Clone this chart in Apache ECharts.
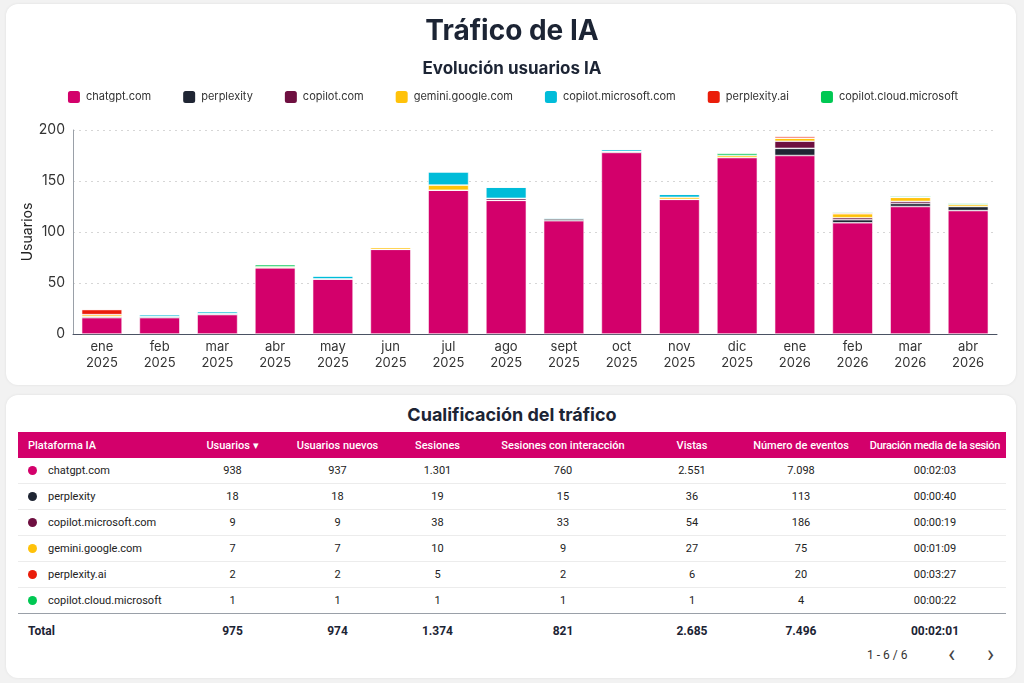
<!DOCTYPE html>
<html>
<head>
<meta charset="utf-8">
<script src="https://cdn.jsdelivr.net/npm/echarts@6/dist/echarts.min.js"></script>
<style>
  body { margin: 0; background: #f2f2f2; font-family: Roboto, "Noto Sans", sans-serif; }
  .card { position: absolute; background: #fff; border-radius: 12px; box-shadow: 0 0 3px rgba(0,0,0,0.08); }
  #card1 { left: 6px; top: 4px; width: 1010px; height: 381px; }
  #card2 { left: 6px; top: 395px; width: 1010px; height: 283px; }
  #chart { position: absolute; left: 0; top: 0; width: 1024px; height: 390px; }
  #tableTitle { position: absolute; left: 0; top: 404px; width: 1024px; text-align: center;
    font-family: Inter, sans-serif; font-weight: 700; font-size: 18px; color: #1c2434; }
  #tbl { position: absolute; left: 18px; top: 432px; width: 988px; border-collapse: collapse; table-layout: fixed;
    font-size: 11px; color: #222; }
  #tbl th { background: #d3006b; color: #fff; font-weight: 500; height: 26px; padding: 0; text-align: center; font-size: 11px; white-space: nowrap; }
  #tbl th:first-child { text-align: left; padding-left: 10px; }
  #tbl th:last-child { letter-spacing: -0.3px; }
  #tbl td { height: 25px; padding: 0; text-align: center; border-bottom: 1px solid #ececec; }
  #tbl td:first-child { text-align: left; padding-left: 10px; }
  #tbl tr.last td { border-bottom: 1.5px solid #9aa0a8; }
  #tbl tr.total td { height: 34px; font-weight: 700; font-size: 12px; border-bottom: none; color: #1c2434; }
  .dot { display: inline-block; width: 9px; height: 9px; border-radius: 50%; margin-right: 11px; vertical-align: -1px; }
  #pager { position: absolute; top: 648px; left: 867px; font-size: 12px; color: #333; }
  .arrow { position: absolute; top: 640px; font-size: 24px; line-height: 28px; color: #444; }
</style>
</head>
<body>
<div class="card" id="card1"></div>
<div class="card" id="card2"></div>
<div id="chart"></div>
<div id="tableTitle">Cualificación del tráfico</div>
<table id="tbl">
  <colgroup>
    <col style="width:167px"><col style="width:95px"><col style="width:115px"><col style="width:85px">
    <col style="width:166px"><col style="width:92px"><col style="width:126px"><col style="width:142px">
  </colgroup>
  <thead><tr id="headRow"></tr></thead>
  <tbody id="tbody"></tbody>
</table>
<div id="pager">1 - 6 / 6</div>
<div class="arrow" style="left:948px">&#x2039;</div>
<div class="arrow" style="left:987px">&#x203A;</div>
<script>
// --- datos del gráfico ---
var months = ["ene\n2025", "feb\n2025", "mar\n2025", "abr\n2025", "may\n2025", "jun\n2025", "jul\n2025", "ago\n2025",
  "sept\n2025", "oct\n2025", "nov\n2025", "dic\n2025", "ene\n2026", "feb\n2026", "mar\n2026", "abr\n2026"];
var chatgpt          = [16, 16, 19, 65, 54, 83, 141, 131, 111, 178, 132, 173, 175, 109, 125, 121];
var perplexity       = [1, 1, 1, 0, 0, 0, 0, 0, 2, 0, 0, 0, 7, 3, 3, 4];
var copilotCom       = [0, 0, 0, 0, 0, 0, 0, 2, 0, 1, 0, 0, 7, 2, 2, 0];
var gemini           = [2, 0, 0, 1, 0, 2, 5, 0, 0, 0, 2, 2, 3, 4, 4, 2];
var copilotMicrosoft = [0, 2, 2, 0, 3, 0, 13, 11, 1, 2, 3, 0, 0, 0, 0, 0];
var perplexityAi     = [5, 0, 0, 0, 0, 0, 0, 0, 0, 0, 0, 0, 2, 1, 0, 0];
var copilotCloud     = [0, 0, 0, 2, 0, 0, 0, 0, 0, 0, 0, 2, 0, 1, 1, 1];
var yTicks = [0, 50, 100, 150, 200];

var seriesNames  = ["chatgpt.com", "perplexity", "copilot.com", "gemini.google.com", "copilot.microsoft.com", "perplexity.ai", "copilot.cloud.microsoft"];
var seriesValues = [chatgpt, perplexity, copilotCom, gemini, copilotMicrosoft, perplexityAi, copilotCloud];
var colors = ["#d3006b", "#1f2533", "#6e0f40", "#ffc20a", "#00bcd9", "#ea1d0a", "#00c853"];

// --- datos de la tabla ---
var tableHeaders = ["Plataforma IA", "Usuarios \u25BE", "Usuarios nuevos", "Sesiones", "Sesiones con interacción", "Vistas", "Número de eventos", "Duración media de la sesión"];
var platforms    = ["chatgpt.com", "perplexity", "copilot.microsoft.com", "gemini.google.com", "perplexity.ai", "copilot.cloud.microsoft"];
var platformColors = ["#d3006b", "#1f2533", "#6e0f40", "#ffc20a", "#ea1d0a", "#00c853"];
var usuarios      = ["938", "18", "9", "7", "2", "1"];
var usuariosNuevos = ["937", "18", "9", "7", "2", "1"];
var sesiones      = ["1.301", "19", "38", "10", "5", "1"];
var sesionesInter = ["760", "15", "33", "9", "2", "1"];
var vistas        = ["2.551", "36", "54", "27", "6", "1"];
var eventos       = ["7.098", "113", "186", "75", "20", "4"];
var duracion      = ["00:02:03", "00:00:40", "00:00:19", "00:01:09", "00:03:27", "00:00:22"];
var totals        = ["Total", "975", "974", "1.374", "821", "2.685", "7.496", "00:02:01"];

var dom = document.getElementById("chart");
var myChart = echarts.init(dom, null, { renderer: "canvas" });

var series = seriesNames.map(function (name, i) {
  return {
    name: name,
    type: "bar",
    stack: "total",
    barWidth: "70%",
    data: seriesValues[i],
    itemStyle: { color: colors[i], borderColor: "#fff", borderWidth: 0.6 }
  };
});

var option = {
  animation: false,
  color: colors,
  title: [
    { text: "Tráfico de IA", left: "center", top: 13,
      textStyle: { fontFamily: "Inter", fontSize: 28, fontWeight: "bold", color: "#1c2434" } },
    { text: "Evolución usuarios IA", left: "center", top: 55,
      textStyle: { fontFamily: "Inter", fontSize: 17, fontWeight: "bold", color: "#1c2434" } }
  ],
  legend: {
    top: 84,
    left: "center",
    icon: "roundRect",
    itemWidth: 14,
    itemHeight: 14,
    itemGap: 30,
    textStyle: { fontFamily: "Inter", fontSize: 11, color: "#333" },
    data: seriesNames
  },
  // título del eje Y
  graphic: [{
    type: "text",
    x: 28,
    y: 232,
    rotation: Math.PI / 2,
    style: { text: "Usuarios", align: "center", verticalAlign: "middle", font: "14px Inter", fill: "#222" }
  }],
  grid: { left: 73, right: 27, top: 130, bottom: 56 },
  xAxis: {
    type: "category",
    data: months,
    axisLine: { lineStyle: { color: "#4a5263", width: 1 } },
    axisTick: { show: false },
    axisLabel: { fontFamily: "Inter", fontSize: 13, lineHeight: 16, color: "#333", margin: 5 }
  },
  yAxis: {
    type: "value",
    min: yTicks[0],
    max: yTicks[yTicks.length - 1],
    interval: yTicks[1] - yTicks[0],
    axisLine: { show: true, lineStyle: { color: "#9aa0a8" } },
    axisLabel: { fontFamily: "Inter", fontSize: 14, color: "#333", margin: 8 },
    splitLine: { lineStyle: { color: "#d6d6d6", type: [2, 4] } }
  },
  series: series
};
myChart.setOption(option);

// tabla
var headRow = document.getElementById("headRow");
tableHeaders.forEach(function (h) {
  var th = document.createElement("th");
  th.textContent = h;
  headRow.appendChild(th);
});
var tbody = document.getElementById("tbody");
platforms.forEach(function (p, i) {
  var tr = document.createElement("tr");
  if (i === platforms.length - 1) tr.className = "last";
  var cells = [usuarios[i], usuariosNuevos[i], sesiones[i], sesionesInter[i], vistas[i], eventos[i], duracion[i]];
  var first = document.createElement("td");
  first.innerHTML = '<span class="dot" style="background:' + platformColors[i] + '"></span>' + p;
  tr.appendChild(first);
  cells.forEach(function (c) {
    var td = document.createElement("td");
    td.textContent = c;
    tr.appendChild(td);
  });
  tbody.appendChild(tr);
});
var totalRow = document.createElement("tr");
totalRow.className = "total";
totals.forEach(function (t) {
  var td = document.createElement("td");
  td.textContent = t;
  totalRow.appendChild(td);
});
tbody.appendChild(totalRow);

window.addEventListener("resize", myChart.resize);
</script>
